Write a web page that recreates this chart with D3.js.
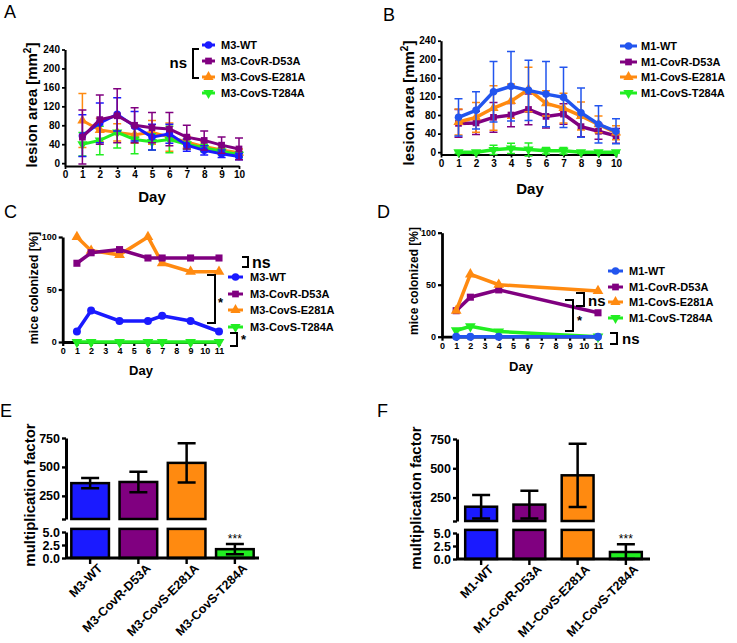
<!DOCTYPE html>
<meta charset="utf-8">
<script src="https://d3js.org/d3.v7.min.js"></script>
<style>
  body { margin: 0; background: #fff; }
  text { font-family: "Liberation Sans", Arial, Helvetica, sans-serif; font-weight: bold; fill: #000; }
</style>
<svg id="fig" width="737" height="643"></svg>
<script>
// ---------- data ----------
var namesM3 = ["M3-WT", "M3-CovR-D53A", "M3-CovS-E281A", "M3-CovS-T284A"];
var namesM1 = ["M1-WT", "M1-CovR-D53A", "M1-CovS-E281A", "M1-CovS-T284A"];
var strainColors = ["#1a1aff", "#800080", "#ff8a10", "#22ee22"];
var strainShapes = ["circle", "square", "up", "down"];

// A / B : lesion area [mm2], mean and sd per day
var daysLesion = [1, 2, 3, 4, 5, 6, 7, 8, 9, 10];
var lesM3WT     = [58, 85, 103, 78, 55, 62, 38, 27, 20, 14];
var lesM3WTsd   = [44, 42, 35, 31, 27, 20, 13, 10, 8, 7];
var lesM3CovR   = [55, 92, 100, 80, 75, 72, 55, 48, 38, 30];
var lesM3CovRsd = [57, 52, 57, 37, 32, 35, 25, 20, 17, 23];
var lesM3E281   = [90, 70, 65, 60, 65, 55, 45, 35, 28, 22];
var lesM3E281sd = [57, 25, 18, 18, 25, 30, 12, 10, 9, 8];
var lesM3T284   = [40, 48, 65, 50, 45, 50, 40, 32, 25, 18];
var lesM3T284sd = [25, 30, 33, 30, 17, 28, 10, 8, 7, 6];

var lesM1WT     = [75, 90, 130, 142, 133, 125, 118, 85, 60, 45];
var lesM1WTsd   = [40, 40, 65, 75, 65, 70, 65, 53, 40, 27];
var lesM1CovR   = [62, 63, 75, 80, 92, 77, 82, 55, 45, 35];
var lesM1CovRsd = [30, 25, 32, 25, 33, 25, 22, 22, 17, 16];
var lesM1E281   = [65, 75, 95, 110, 135, 105, 95, 78, 60, 42];
var lesM1E281sd = [28, 32, 48, 37, 48, 27, 32, 30, 18, 15];
var lesM1T284   = [0, 0, 5, 8, 6, 3, 3, 0, 0, 0];
var lesM1T284sd = [3, 3, 10, 11, 14, 7, 7, 3, 2, 2];

// C / D : mice colonized [%]
var daysColM3 = [1, 2, 4, 6, 7, 9, 11];
var colM3WT   = [10, 30, 20, 20, 25, 20, 10];
var colM3CovR = [75, 85, 88, 80, 80, 80, 80];
var colM3E281 = [100, 87, 83, 100, 75, 67, 67];
var colM3T284 = [0, 0, 0, 0, 0, 0, 0];

var daysColM1 = [1, 2, 4, 11];
var colM1WT   = [0, 0, 0, 0];
var colM1CovR = [25, 38, 45, 23];
var colM1E281 = [25, 60, 50, 44];
var colM1T284 = [6, 10, 5, 0];

// E / F : multiplication factor
var factorM3   = [360, 370, 535, 1.7];
var factorM3sd = [45, 88, 170, 1.0];
var factorM1   = [172, 190, 440, 1.35];
var factorM1sd = [100, 118, 270, 1.5];

// ---------- helpers ----------
var svg = d3.select("#fig");

function mkSeries(means, sds, blue) {
  return means.map(function (m, i) {
    return { mean: m, sd: sds ? sds[i] : null, color: (i == 0 && blue) ? blue : strainColors[i], shape: strainShapes[i] };
  });
}

function styleAxis(a, w, fs) {
  a.select(".domain").attr("stroke", "#000").attr("stroke-width", w);
  a.selectAll(".tick line").attr("stroke", "#000").attr("stroke-width", w * 0.8);
  a.selectAll(".tick text").style("font-size", fs + "px");
}

function drawSymbol(g, shape, x, y, size, color) {
  var t = { circle: d3.symbolCircle, square: d3.symbolSquare, up: d3.symbolTriangle, down: d3.symbolTriangle }[shape];
  g.append("path")
    .attr("d", d3.symbol().type(t).size(size)())
    .attr("transform", "translate(" + x + "," + y + ")" + (shape == "down" ? " rotate(180)" : ""))
    .attr("fill", color);
}

function linePanel(c) {
  var x = d3.scaleLinear().domain(c.xDomain).range(c.xRange);
  var y = d3.scaleLinear().domain(c.yDomain).range(c.yRange);
  var g = svg.append("g");

  var xa = g.append("g").attr("transform", "translate(0," + c.yRange[0] + ")")
    .call(d3.axisBottom(x).tickValues(d3.range(c.xDomain[0], c.xDomain[1] + 1))
      .tickSize(c.tick).tickPadding(2).tickSizeOuter(0));
  styleAxis(xa, c.axisW, c.fs);
  var ya = g.append("g").attr("transform", "translate(" + c.xRange[0] + ",0)")
    .call(d3.axisLeft(y).tickValues(c.yTicks).tickSize(c.tick).tickPadding(2).tickSizeOuter(0));
  styleAxis(ya, c.axisW, c.fs);

  c.order.forEach(function (i) {
    var s = c.series[i];
    var pts = c.days.map(function (d, k) { return { d: d, m: s.mean[k], sd: s.sd ? s.sd[k] : 0 }; });
    var sg = g.append("g");
    if (s.sd) {
      pts.forEach(function (p) {
        var x0 = x(p.d), y1 = y(p.m + p.sd), y2 = y(p.m - p.sd);
        sg.append("path")
          .attr("d", "M" + (x0 - c.cap) + "," + y1 + "H" + (x0 + c.cap) + "M" + x0 + "," + y1 + "V" + y2 +
            "M" + (x0 - c.cap) + "," + y2 + "H" + (x0 + c.cap))
          .attr("stroke", s.color).attr("stroke-width", 1.5).attr("fill", "none");
      });
    }
    sg.append("path").datum(pts)
      .attr("d", d3.line().x(function (p) { return x(p.d); }).y(function (p) { return y(p.m); }))
      .attr("fill", "none").attr("stroke", s.color).attr("stroke-width", c.lineW);
    pts.forEach(function (p) { drawSymbol(sg, s.shape, x(p.d), y(p.m), c.sym, s.color); });
  });
}

function legend(x0, x1, tx, ys, names, series, fs) {
  ys.forEach(function (yy, i) {
    var s = series[i];
    svg.append("line").attr("x1", x0).attr("x2", x1).attr("y1", yy).attr("y2", yy)
      .attr("stroke", s.color).attr("stroke-width", 3);
    drawSymbol(svg, s.shape, (x0 + x1) / 2, yy, 45, s.color);
    svg.append("text").attr("x", tx).attr("y", yy).attr("dy", "0.36em")
      .style("font-size", fs + "px").text(names[i]);
  });
}

function bracket(x, y1, y2, arm) {
  svg.append("path").attr("d", "M" + (x + arm) + "," + y1 + "H" + x + "V" + y2 + "H" + (x + arm))
    .attr("fill", "none").attr("stroke", "#000").attr("stroke-width", 2);
}

function label(x, y, txt, fs, anchor) {
  return svg.append("text").attr("x", x).attr("y", y).attr("text-anchor", anchor || "start")
    .style("font-size", fs + "px").text(txt);
}

function ylabel(x, y, txt, fs) {
  return svg.append("text").attr("transform", "translate(" + x + "," + y + ") rotate(-90)")
    .attr("text-anchor", "middle").style("font-size", fs + "px").text(txt);
}

function panelLetter(x, y, t) {
  svg.append("text").attr("x", x).attr("y", y).style("font-size", "18px").style("font-weight", "normal").text(t);
}

function barPanel(c) {
  var x = d3.scaleBand().domain(c.names).range(c.xRange).paddingInner(c.pi).paddingOuter(c.po);
  var yU = d3.scaleLinear().domain([50, 750]).range(c.uRange);
  var yL = d3.scaleLinear().domain([0, 5]).range(c.lRange);
  var g = svg.append("g");

  function rect(bx, y0, h, col) {
    g.append("rect").attr("x", bx).attr("y", y0).attr("width", x.bandwidth()).attr("height", h)
      .attr("fill", col).attr("stroke", "#000").attr("stroke-width", 2.5);
  }
  function err(cx, yt, yb) {
    g.append("path").attr("d", "M" + (cx - 9) + "," + yt + "H" + (cx + 9) + "M" + cx + "," + yt + "V" + yb +
      "M" + (cx - 9) + "," + yb + "H" + (cx + 9))
      .attr("stroke", "#000").attr("stroke-width", 2.5).attr("fill", "none");
  }

  c.values.forEach(function (v, i) {
    var bx = x(c.names[i]), cx = bx + x.bandwidth() / 2, sd = c.sd[i];
    if (v > 5) {
      rect(bx, yU(v), yU(50) - yU(v), strainColors[i]);
      rect(bx, yL(5.6), yL(0) - yL(5.6), strainColors[i]);
      err(cx, yU(v + sd), yU(v - sd));
    } else {
      rect(bx, yL(v), yL(0) - yL(v), strainColors[i]);
      err(cx, yL(v + sd), yL(Math.max(0, v - sd)));
      label(cx, yL(v + sd) - 1, "***", 12, "middle").style("font-weight", "normal");
    }
  });

  var au = g.append("g").attr("transform", "translate(" + c.xRange[0] + ",0)")
    .call(d3.axisLeft(yU).tickValues([50, 250, 500, 750]).tickFormat(function (d) { return d == 50 ? "" : d; })
      .tickSize(4).tickPadding(2).tickSizeOuter(0));
  styleAxis(au, 3, 12.5);
  var al = g.append("g").attr("transform", "translate(" + c.xRange[0] + ",0)")
    .call(d3.axisLeft(yL).tickValues([0, 2.5, 5]).tickFormat(d3.format(".1f"))
      .tickSize(4).tickPadding(2).tickSizeOuter(0));
  styleAxis(al, 3, 12.5);
  var ax = g.append("g").attr("transform", "translate(0," + yL(0) + ")")
    .call(d3.axisBottom(x).tickSize(6).tickSizeOuter(0));
  styleAxis(ax, 3, 12.5);
  ax.select(".domain").attr("d", "M" + c.xRange[0] + ",0H" + c.xRange[1]);
  ax.selectAll(".tick text")
    .attr("y", 0).attr("dy", "0.35em").attr("text-anchor", "end")
    .attr("transform", "translate(10,8) rotate(-45)");
}

// ---------- panel A ----------
panelLetter(4, 18, "A");
linePanel({
  xDomain: [0, 10], xRange: [65, 239], yDomain: [-6, 240], yRange: [166, 49.5],
  yTicks: [0, 40, 80, 120, 160, 200, 240], tick: 3, axisW: 2.2, fs: 10,
  days: daysLesion, cap: 4, lineW: 3, sym: 45, order: [2, 3, 0, 1],
  series: mkSeries([lesM3WT, lesM3CovR, lesM3E281, lesM3T284], [lesM3WTsd, lesM3CovRsd, lesM3E281sd, lesM3T284sd])
});
var yA = ylabel(37, 105, "lesion area [mm", 15);
yA.append("tspan").attr("dy", -6).style("font-size", "10px").text("2");
yA.append("tspan").attr("dy", 6).text("]");
label(152, 202, "Day", 15, "middle");
legend(202, 215, 221, [45, 61, 77, 93], namesM3,
  mkSeries([lesM3WT, lesM3CovR, lesM3E281, lesM3T284], null), 11);
bracket(193, 49, 78, 6);
label(187, 68, "ns", 15, "end");

// ---------- panel B ----------
panelLetter(383, 21, "B");
linePanel({
  xDomain: [0, 10], xRange: [441, 616], yDomain: [-5, 240], yRange: [154.5, 40.7],
  yTicks: [0, 40, 80, 120, 160, 200, 240], tick: 3, axisW: 2.2, fs: 10,
  days: daysLesion, cap: 4, lineW: 3.5, sym: 45, order: [3, 1, 2, 0],
  series: mkSeries([lesM1WT, lesM1CovR, lesM1E281, lesM1T284], [lesM1WTsd, lesM1CovRsd, lesM1E281sd, lesM1T284sd], "#2255ee")
});
var yB = ylabel(414, 103, "lesion area [mm", 15);
yB.append("tspan").attr("dy", -6).style("font-size", "10px").text("2");
yB.append("tspan").attr("dy", 6).text("]");
label(530, 194, "Day", 15, "middle");
legend(620, 637, 641, [46, 62, 77, 93], namesM1,
  mkSeries([lesM1WT, lesM1CovR, lesM1E281, lesM1T284], null, "#2255ee"), 11);

// ---------- panel C ----------
panelLetter(4, 218, "C");
linePanel({
  xDomain: [0, 11], xRange: [62.7, 219], yDomain: [0, 100], yRange: [342, 237],
  yTicks: [0, 50, 100], tick: 4, axisW: 2.8, fs: 9,
  days: daysColM3, cap: 0, lineW: 3.5, sym: 50, order: [0, 2, 1, 3],
  series: mkSeries([colM3WT, colM3CovR, colM3E281, colM3T284], null)
});
ylabel(38, 288, "mice colonized [%]", 12.5);
label(141, 375, "Day", 13, "middle");
legend(228, 243, 250, [277, 294, 310, 327], namesM3,
  mkSeries([colM3WT, colM3CovR, colM3E281, colM3T284], null), 11);
bracket(248, 257, 267, -6);
label(252, 268, "ns", 16);
bracket(215, 275, 323, -8);
label(218, 307, "*", 13);
bracket(237, 333, 346, -7);
label(241, 344, "*", 13);

// ---------- panel D ----------
panelLetter(377, 218, "D");
linePanel({
  xDomain: [0, 11], xRange: [442, 598], yDomain: [0, 100], yRange: [336.7, 232.7],
  yTicks: [0, 50, 100], tick: 4, axisW: 2.8, fs: 9,
  days: daysColM1, cap: 0, lineW: 3.5, sym: 50, order: [3, 0, 1, 2],
  series: mkSeries([colM1WT, colM1CovR, colM1E281, colM1T284], null, "#2255ee")
});
ylabel(418, 281, "mice colonized [%]", 12);
label(521, 371, "Day", 13, "middle");
legend(608, 623, 629, [271, 287, 302, 318], namesM1,
  mkSeries([colM1WT, colM1CovR, colM1E281, colM1T284], null, "#2255ee"), 11);
bracket(584, 293, 306, -8);
label(588, 306, "ns", 15);
bracket(573, 300, 331, -8);
label(577, 325, "*", 13);
bracket(617, 333, 344, -7);
label(622, 344, "ns", 15);

// ---------- panel E ----------
panelLetter(0, 417, "E");
barPanel({
  names: namesM3, values: factorM3, sd: factorM3sd,
  xRange: [66, 259], pi: 0.22, po: 0.11, uRange: [519, 438], lRange: [558, 532]
});
ylabel(35, 495, "multiplication factor", 15);

// ---------- panel F ----------
panelLetter(377, 417, "F");
barPanel({
  names: namesM1, values: factorM1, sd: factorM1sd,
  xRange: [457, 650], pi: 0.34, po: 0.17, uRange: [521, 439], lRange: [559, 533]
});
ylabel(421, 498, "multiplication factor", 15);
</script>
